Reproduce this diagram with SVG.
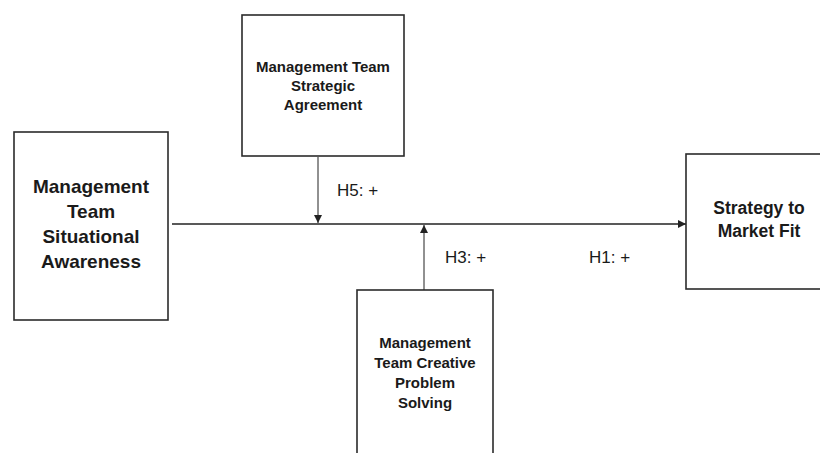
<svg xmlns="http://www.w3.org/2000/svg" width="820" height="453" viewBox="0 0 820 453">
  <style>
    .box { fill: #ffffff; stroke: #2b2b2b; stroke-width: 1.6; }
    .lbl { font-family: "Liberation Sans", Arial, sans-serif; font-weight: bold; fill: #1a1a1a; text-anchor: middle; }
    .hyp { font-family: "Liberation Sans", Arial, sans-serif; font-size: 17px; fill: #1a1a1a; }
    .edge { stroke: #222; fill: none; }
  </style>
  <defs>
    <marker id="arrow" viewBox="0 0 10 10" refX="10" refY="5" markerWidth="8" markerHeight="8" markerUnits="userSpaceOnUse" orient="auto">
      <path d="M0,0 L10,5 L0,10 z" fill="#222"/>
    </marker>
  </defs>
  <rect width="820" height="453" fill="#ffffff"/>

  <g id="connectors">
    <line class="edge" x1="172" y1="224" x2="686" y2="224" stroke-width="1.6" marker-end="url(#arrow)"/>
    <line class="edge" x1="318" y1="157" x2="318" y2="223" stroke-width="1" marker-end="url(#arrow)"/>
    <line class="edge" x1="424" y1="290" x2="424" y2="225" stroke-width="1" marker-end="url(#arrow)"/>
    <text class="hyp" x="337" y="196">H5: +</text>
    <text class="hyp" x="445" y="263">H3: +</text>
    <text class="hyp" x="589" y="263">H1: +</text>
  </g>

  <g id="situational-awareness">
    <rect class="box" x="14" y="132" width="154" height="188"/>
    <text class="lbl" font-size="19" x="91" y="193">Management</text>
    <text class="lbl" font-size="19" x="91" y="218">Team</text>
    <text class="lbl" font-size="19" x="91" y="243">Situational</text>
    <text class="lbl" font-size="19" x="91" y="268">Awareness</text>
  </g>

  <g id="strategic-agreement">
    <rect class="box" x="242" y="15" width="162" height="141"/>
    <text class="lbl" font-size="15" x="323" y="72">Management Team</text>
    <text class="lbl" font-size="15" x="323" y="91">Strategic</text>
    <text class="lbl" font-size="15" x="323" y="110">Agreement</text>
  </g>

  <g id="creative-problem-solving">
    <rect class="box" x="357" y="290" width="136" height="180"/>
    <text class="lbl" font-size="15" x="425" y="348">Management</text>
    <text class="lbl" font-size="15" x="425" y="368">Team Creative</text>
    <text class="lbl" font-size="15" x="425" y="388">Problem</text>
    <text class="lbl" font-size="15" x="425" y="408">Solving</text>
  </g>

  <g id="market-fit">
    <rect class="box" x="686" y="154" width="146" height="135"/>
    <text class="lbl" font-size="17.5" x="759" y="214">Strategy to</text>
    <text class="lbl" font-size="17.5" x="759" y="237">Market Fit</text>
  </g>
</svg>
